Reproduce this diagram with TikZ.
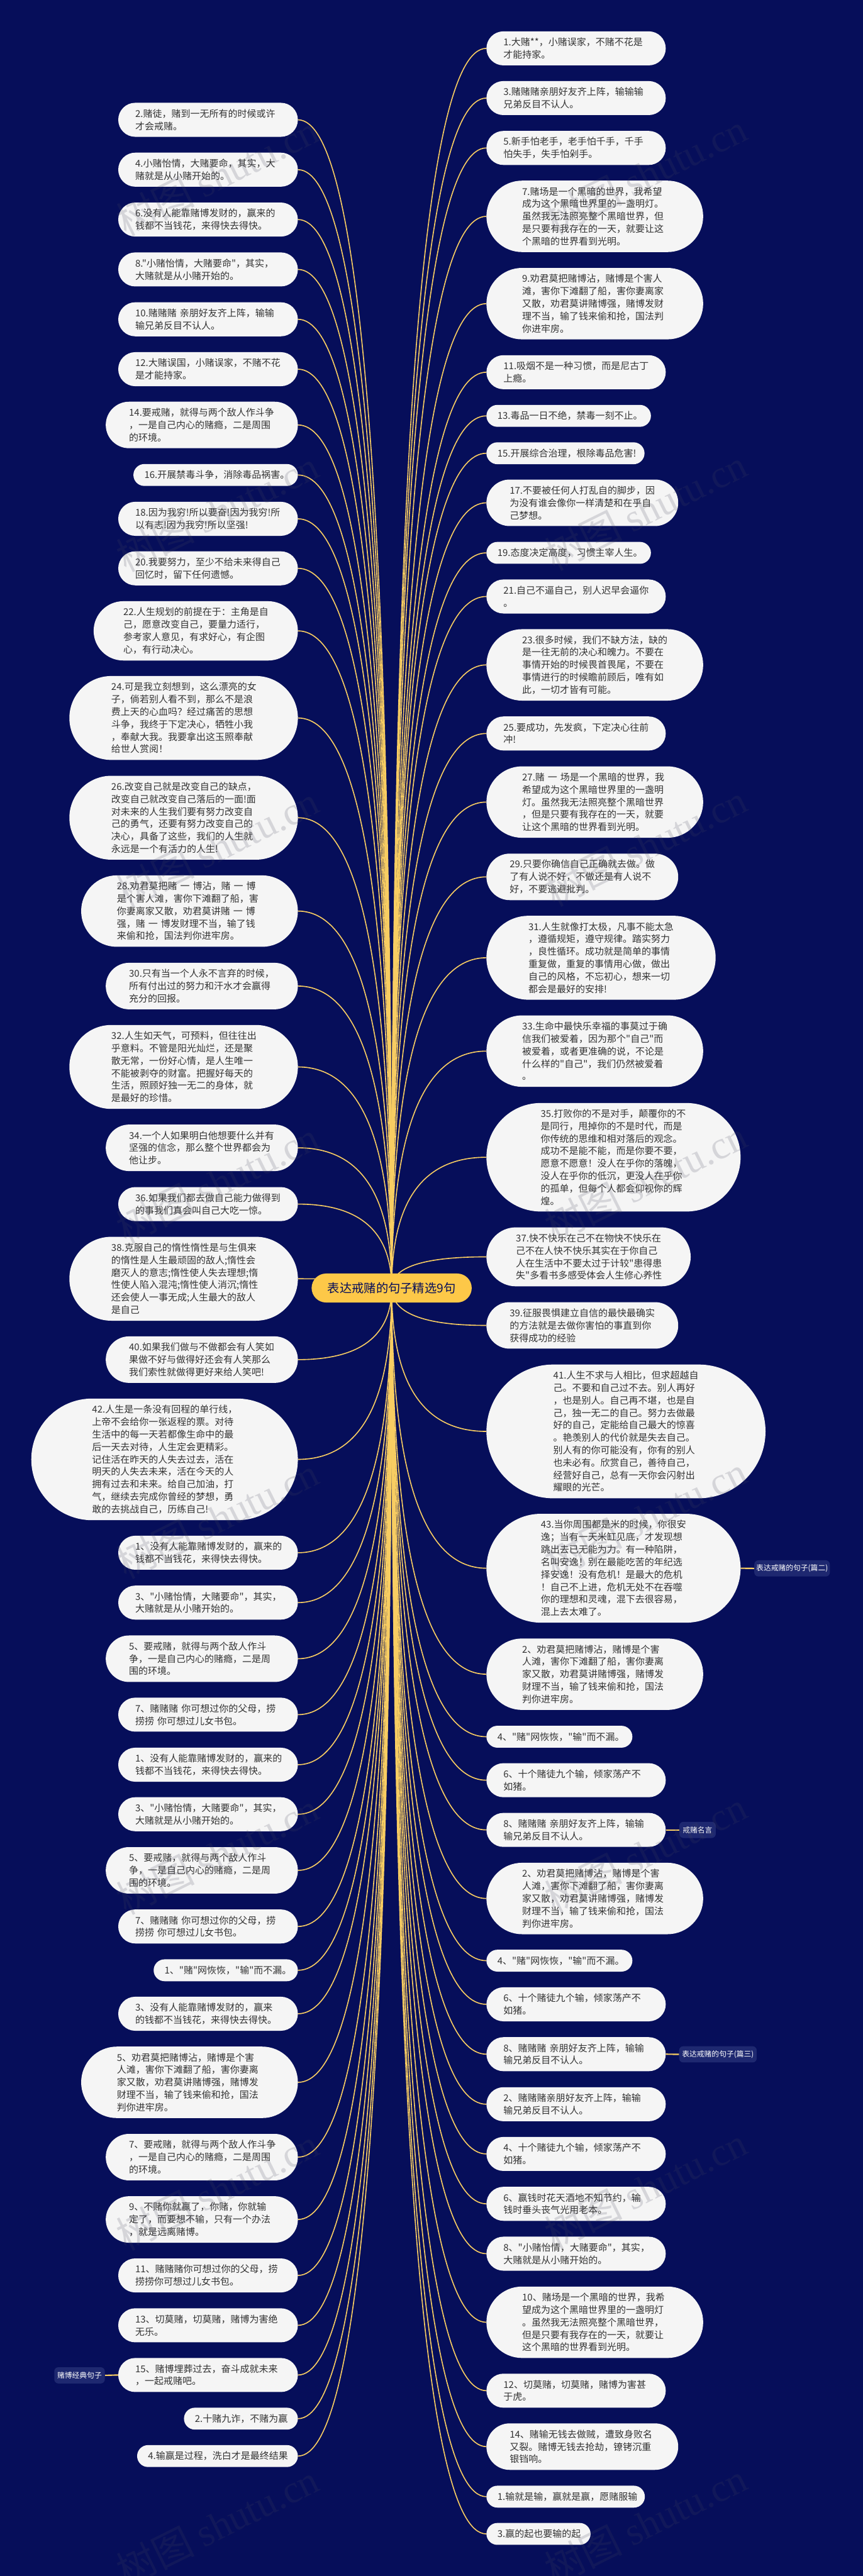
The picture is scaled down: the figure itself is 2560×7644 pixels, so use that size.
\documentclass[tikz,border=0pt]{standalone}
\usepackage{fontspec}
\newfontfamily\cjkfont{Noto Sans CJK SC}
\newfontfamily\markfont{Liberation Serif}
\usetikzlibrary{calc,backgrounds}
\definecolor{pagebg}{HTML}{060E5A}
\definecolor{pillbg}{HTML}{F5F5F5}
\definecolor{pilltext}{HTML}{333333}
\definecolor{linkcol}{HTML}{F8CD62}
\definecolor{rootbg}{HTML}{FDC848}
\definecolor{tagbg}{HTML}{1E2870}
\definecolor{markcol}{HTML}{46465A}
\tikzset{
  pill/.code 2 args={%
    \pgfmathsetlengthmacro\pilltw{(#1-#2)*1pt}%
    \pgfmathsetlengthmacro\pillw{#1*1pt}%
    \pgfmathsetlengthmacro\pillh{#2*1pt}%
    \pgfmathsetlengthmacro\pillr{#2*0.5pt}%
    \tikzset{minimum width=\pillw,minimum height=\pillh,text width=\pilltw,rounded corners=\pillr,
      fill=pillbg,text=pilltext,inner sep=0pt,align=left,font=\cjkfont\fontsize{28}{37}\selectfont}},
  lpill/.style 2 args={pill={#1}{#2},anchor=east},
  rpill/.style 2 args={pill={#1}{#2},anchor=west},
  root/.style={fill=rootbg,text=pagebg,inner sep=0pt,minimum width=475pt,minimum height=86pt,rounded corners=43pt,font=\cjkfont\fontsize{36}{44}\selectfont},
  tag/.style={fill=tagbg,text=white,inner sep=0pt,minimum height=48pt,rounded corners=12pt,font=\cjkfont\fontsize{22}{28}\selectfont},
  wmark/.style={text=markcol,opacity=0.18,rotate=26.4,font=\cjkfont\fontsize{116}{122}\selectfont},
  link/.style={draw=linkcol,line width=3pt,to path={.. controls ($(\tikztostart)!0.667!(\tikztostart -| \tikztotarget)$) and ($(\tikztotarget)!0.667!(\tikztostart -| \tikztotarget)$) .. (\tikztotarget)}},
  stub/.style={draw=linkcol,line width=4pt}
}
\newcommand{\marktext}{树图 {\markfont shutu.cn}}
\begin{document}
\begin{tikzpicture}[x=1pt,y=-1pt]
  \useasboundingbox (0,0) rectangle (2560,7644);
  \path
    (1162,3822) node[root] (root){表达戒赌的句子精选9句};
  \path
    (884,355.5) node[lpill={533}{101}] (l2){2.赌徒，赌到一无所有的时候或许\\才会戒赌。}
    (884,503.5) node[lpill={533}{101}] (l4){4.小赌怡情，大赌要命，其实，大\\赌就是从小赌开始的。}
    (884,651.5) node[lpill={533}{101}] (l6){6.没有人能靠赌博发财的，赢来的\\钱都不当钱花，来得快去得快。}
    (884,799.5) node[lpill={533}{101}] (l8){8."小赌怡情，大赌要命"，其实，\\大赌就是从小赌开始的。}
    (884,947.5) node[lpill={533}{101}] (l10){10.赌赌赌~亲朋好友齐上阵，输输\\输兄弟反目不认人。}
    (884,1095.5) node[lpill={533}{101}] (l12){12.大赌误国，小赌误家，不赌不花\\是才能持家。}
    (884,1261) node[lpill={570}{138}] (l14){14.要戒赌，就得与两个敌人作斗争\\，一是自己内心的赌瘾，二是周围\\的环境。}
    (884,1409.5) node[lpill={488}{65}] (l16){16.开展禁毒斗争，消除毒品祸害。}
    (884,1539.5) node[lpill={533}{101}] (l18){18.因为我穷!所以要奋!因为我穷!所\\以有志!因为我穷!所以坚强!}
    (884,1686.5) node[lpill={533}{101}] (l20){20.我要努力，至少不给未来得自己\\回忆时，留下任何遗憾。}
    (884,1872) node[lpill={606}{176}] (l22){22.人生规划的前提在于：主角是自\\己，愿意改变自己，要量力适行，\\参考家人意见，有求好心，有企图\\心，有行动决心。}
    (884,2130.5) node[lpill={678}{249}] (l24){24.可是我立刻想到，这么漂亮的女\\子，倘若别人看不到，那么不是浪\\费上天的心血吗？经过痛苦的思想\\斗争，我终于下定决心，牺牲小我\\，奉献大我。我要拿出这玉照奉献\\给世人赏阅！}
    (884,2426.5) node[lpill={678}{249}] (l26){26.改变自己就是改变自己的缺点，\\改变自己就改变自己落后的一面!面\\对未来的人生我们要有努力改变自\\己的勇气，还要有努力改变自己的\\决心，具备了这些，我们的人生就\\永远是一个有活力的人生!}
    (884,2703.5) node[lpill={643}{212}] (l28){28.劝君莫把赌~一~博沾，赌~一~博\\是个害人滩，害你下滩翻了船，害\\你妻离家又散，劝君莫讲赌~一~博\\强，赌~一~博发财理不当，输了钱\\来偷和抢，国法判你进牢房。}
    (884,2926) node[lpill={570}{138}] (l30){30.只有当一个人永不言弃的时候，\\所有付出过的努力和汗水才会赢得\\充分的回报。}
    (884,3166) node[lpill={678}{249}] (l32){32.人生如天气，可预料，但往往出\\乎意料。不管是阳光灿烂，还是聚\\散无常，一份好心情，是人生唯一\\不能被剥夺的财富。把握好每天的\\生活，照顾好独一无二的身体，就\\是最好的珍惜。}
    (884,3406) node[lpill={570}{138}] (l34){34.一个人如果明白他想要什么并有\\坚强的信念，那么整个世界都会为\\他让步。}
    (884,3573) node[lpill={533}{101}] (l36){36.如果我们都去做自己能力做得到\\的事我们真会叫自己大吃一惊。}
    (884,3794.5) node[lpill={678}{249}] (l38){38.克服自己的惰性惰性是与生俱来\\的惰性是人生最顽固的敌人;惰性会\\磨灭人的意志;惰性使人失去理想;惰\\性使人陷入混沌;惰性使人消沉;惰性\\还会使人一事无成;人生最大的敌人\\是自己}
    (884,4034.5) node[lpill={570}{138}] (l40){40.如果我们做与不做都会有人笑如\\果做不好与做得好还会有人笑那么\\我们索性就做得更好来给人笑吧!}
    (884,4330.5) node[lpill={791}{361}] (l42){42.人生是一条没有回程的单行线，\\上帝不会给你一张返程的票。对待\\生活中的每一天若都像生命中的最\\后一天去对待，人生定会更精彩。\\记住活在昨天的人失去过去，活在\\明天的人失去未来，活在今天的人\\拥有过去和未来。给自己加油，打\\气，继续去完成你曾经的梦想，勇\\敢的去挑战自己，历练自己!}
    (884,4607.5) node[lpill={533}{101}] (a1){1、没有人能靠赌博发财的，赢来的\\钱都不当钱花，来得快去得快。}
    (884,4755.5) node[lpill={533}{101}] (a3){3、"小赌怡情，大赌要命"，其实，\\大赌就是从小赌开始的。}
    (884,4922) node[lpill={570}{138}] (a5){5、要戒赌，就得与两个敌人作斗\\争，一是自己内心的赌瘾，二是周\\围的环境。}
    (884,5088) node[lpill={533}{101}] (a7){7、赌赌赌~你可想过你的父母，捞\\捞捞~你可想过儿女书包。}
    (884,5236.5) node[lpill={533}{101}] (b1){1、没有人能靠赌博发财的，赢来的\\钱都不当钱花，来得快去得快。}
    (884,5383.5) node[lpill={533}{101}] (b3){3、"小赌怡情，大赌要命"，其实，\\大赌就是从小赌开始的。}
    (884,5550) node[lpill={570}{138}] (b5){5、要戒赌，就得与两个敌人作斗\\争，一是自己内心的赌瘾，二是周\\围的环境。}
    (884,5716.5) node[lpill={533}{101}] (b7){7、赌赌赌~你可想过你的父母，捞\\捞捞~你可想过儿女书包。}
    (884,5846.5) node[lpill={428}{65}] (c1){1、"赌"网恢恢，"输"而不漏。}
    (884,5975.5) node[lpill={533}{101}] (c3){3、没有人能靠赌博发财的，赢来\\的钱都不当钱花，来得快去得快。}
    (884,6179) node[lpill={643}{212}] (c5){5、劝君莫把赌博沾，赌博是个害\\人滩，害你下滩翻了船，害你妻离\\家又散，劝君莫讲赌博强，赌博发\\财理不当，输了钱来偷和抢，国法\\判你进牢房。}
    (884,6401) node[lpill={570}{138}] (c7){7、要戒赌，就得与两个敌人作斗争\\，一是自己内心的赌瘾，二是周围\\的环境。}
    (884,6586) node[lpill={570}{138}] (c9){9、不赌你就赢了，你赌，你就输\\定了，而要想不输，只有一个办法\\，就是远离赌博。}
    (884,6752) node[lpill={533}{101}] (c11){11、赌赌赌你可想过你的父母，捞\\捞捞你可想过儿女书包。}
    (884,6900) node[lpill={533}{101}] (c13){13、切莫赌，切莫赌，赌博为害绝\\无乐。}
    (884,7047.5) node[lpill={533}{101}] (c15){15、赌博埋葬过去，奋斗成就未来\\，一起戒赌吧。}
    (884,7177) node[lpill={338}{65}] (d2){2.十赌九诈，不赌为赢}
    (884,7288) node[lpill={477}{65}] (d4){4.输赢是过程，洗白才是最终结果};
  \path
    (1443,143.5) node[rpill={532}{101}] (r1){1.大赌**，小赌误家，不赌不花是\\才能持家。}
    (1443,291) node[rpill={532}{101}] (r3){3.赌赌赌亲朋好友齐上阵，输输输\\兄弟反目不认人。}
    (1443,439) node[rpill={532}{101}] (r5){5.新手怕老手，老手怕千手，千手\\怕失手，失手怕剁手。}
    (1443,642) node[rpill={643}{212}] (r7){7.赌场是一个黑暗的世界，我希望\\成为这个黑暗世界里的一盏明灯。\\虽然我无法照亮整个黑暗世界，但\\是只要有我存在的一天，就要让这\\个黑暗的世界看到光明。}
    (1443,901) node[rpill={643}{212}] (r9){9.劝君莫把赌博沾，赌博是个害人\\滩，害你下滩翻了船，害你妻离家\\又散，劝君莫讲赌博强，赌博发财\\理不当，输了钱来偷和抢，国法判\\你进牢房。}
    (1443,1104.5) node[rpill={532}{101}] (r11){11.吸烟不是一种习惯，而是尼古丁\\上瘾。}
    (1443,1234) node[rpill={488}{65}] (r13){13.毒品一日不绝，禁毒一刻不止。}
    (1443,1345) node[rpill={469}{65}] (r15){15.开展综合治理，根除毒品危害!}
    (1443,1492) node[rpill={569}{138}] (r17){17.不要被任何人打乱自的脚步，因\\为没有谁会像你一样清楚和在乎自\\己梦想。}
    (1443,1640.5) node[rpill={488}{65}] (r19){19.态度决定高度，习惯主宰人生。}
    (1443,1770) node[rpill={532}{101}] (r21){21.自己不逼自己，别人迟早会逼你\\。}
    (1443,1973) node[rpill={643}{212}] (r23){23.很多时候，我们不缺方法，缺的\\是一往无前的决心和魄力。不要在\\事情开始的时候畏首畏尾，不要在\\事情进行的时候瞻前顾后，唯有如\\此，一切才皆有可能。}
    (1443,2176.5) node[rpill={532}{101}] (r25){25.要成功，先发疯，下定决心往前\\冲!}
    (1443,2380) node[rpill={643}{212}] (r27){27.赌~一~场是一个黑暗的世界，我\\希望成为这个黑暗世界里的一盏明\\灯。虽然我无法照亮整个黑暗世界\\，但是只要有我存在的一天，就要\\让这个黑暗的世界看到光明。}
    (1443,2602) node[rpill={569}{138}] (r29){29.只要你确信自己正确就去做。做\\了有人说不好，不做还是有人说不\\好，不要逃避批判。}
    (1443,2842) node[rpill={680}{249}] (r31){31.人生就像打太极，凡事不能太急\\，遵循规矩，遵守规律。踏实努力\\，良性循环。成功就是简单的事情\\重复做，重复的事情用心做，做出\\自己的风格，不忘初心，想来一切\\都会是最好的安排!}
    (1443,3119) node[rpill={643}{212}] (r33){33.生命中最快乐幸福的事莫过于确\\信我们被爱着，因为那个"自己"而\\被爱着，或者更准确的说，不论是\\什么样的"自己"，我们仍然被爱着\\。}
    (1443,3434) node[rpill={754}{322}] (r35){35.打败你的不是对手，颠覆你的不\\是同行，甩掉你的不是时代，而是\\你传统的思维和相对落后的观念。\\成功不是能不能，而是你要不要，\\愿意不愿意！没人在乎你的落魄，\\没人在乎你的低沉，更没人在乎你\\的孤单，但每个人都会仰视你的辉\\煌。}
    (1443,3729.5) node[rpill={606}{175}] (r37){37.快不快乐在己不在物快不快乐在\\己不在人快不快乐其实在于你自己\\人在生活中不要太过于计较"患得患\\失"多看书多感受体会人生修心养性}
    (1443,3933) node[rpill={569}{138}] (r39){39.征服畏惧建立自信的最快最确实\\的方法就是去做你害怕的事直到你\\获得成功的经验}
    (1443,4247.5) node[rpill={828}{397}] (r41){41.人生不求与人相比，但求超越自\\己。不要和自己过不去。别人再好\\，也是别人。自己再不堪，也是自\\己，独一无二的自己。努力去做最\\好的自己，定能给自己最大的惊喜\\。艳羡别人的代价就是失去自己。\\别人有的你可能没有，你有的别人\\也未必有。欣赏自己，善待自己，\\经营好自己，总有一天你会闪射出\\耀眼的光芒。}
    (1443,4653.5) node[rpill={754}{323}] (r43){43.当你周围都是米的时候，你很安\\逸；当有一天米缸见底，才发现想\\跳出去已无能为力。有一种陷阱，\\名叫安逸！别在最能吃苦的年纪选\\择安逸！没有危机！是最大的危机\\！自己不上进，危机无处不在吞噬\\你的理想和灵魂，混下去很容易，\\混上去太难了。}
    (1443,4968) node[rpill={643}{212}] (e2){2、劝君莫把赌博沾，赌博是个害\\人滩，害你下滩翻了船，害你妻离\\家又散，劝君莫讲赌博强，赌博发\\财理不当，输了钱来偷和抢，国法\\判你进牢房。}
    (1443,5153.5) node[rpill={433}{65}] (e4){4、"赌"网恢恢，"输"而不漏。}
    (1443,5282.5) node[rpill={532}{101}] (e6){6、十个赌徒九个输，倾家荡产不\\如猪。}
    (1443,5430) node[rpill={532}{101}] (e8){8、赌赌赌~亲朋好友齐上阵，输输\\输兄弟反目不认人。}
    (1443,5633.5) node[rpill={643}{212}] (f2){2、劝君莫把赌博沾，赌博是个害\\人滩，害你下滩翻了船，害你妻离\\家又散，劝君莫讲赌博强，赌博发\\财理不当，输了钱来偷和抢，国法\\判你进牢房。}
    (1443,5818) node[rpill={433}{65}] (f4){4、"赌"网恢恢，"输"而不漏。}
    (1443,5947.5) node[rpill={532}{101}] (f6){6、十个赌徒九个输，倾家荡产不\\如猪。}
    (1443,6095.5) node[rpill={532}{101}] (f8){8、赌赌赌~亲朋好友齐上阵，输输\\输兄弟反目不认人。}
    (1443,6244) node[rpill={532}{101}] (g2){2、赌赌赌亲朋好友齐上阵，输输\\输兄弟反目不认人。}
    (1443,6391.5) node[rpill={532}{101}] (g4){4、十个赌徒九个输，倾家荡产不\\如猪。}
    (1443,6539.5) node[rpill={532}{101}] (g6){6、赢钱时花天酒地不知节约，输\\钱时垂头丧气光用老本。}
    (1443,6687.5) node[rpill={532}{101}] (g8){8、"小赌怡情，大赌要命"，其实，\\大赌就是从小赌开始的。}
    (1443,6891) node[rpill={643}{212}] (g10){10、赌场是一个黑暗的世界，我希\\望成为这个黑暗世界里的一盏明灯\\。虽然我无法照亮整个黑暗世界，\\但是只要有我存在的一天，就要让\\这个黑暗的世界看到光明。}
    (1443,7094) node[rpill={532}{101}] (g12){12、切莫赌，切莫赌，赌博为害甚\\于虎。}
    (1443,7260) node[rpill={569}{138}] (g14){14、赌输无钱去做贼，遭致身败名\\又裂。赌博无钱去抢劫，镣铐沉重\\银铛响。}
    (1443,7408.5) node[rpill={470}{65}] (h1){1.输就是输，赢就是赢，愿赌服输}
    (1443,7519) node[rpill={309}{65}] (h3){3.赢的起也要输的起};
  \path
    (236,7048.5) node[tag,minimum width=150pt] (tagjd){赌博经典句子}
    (2350,4654) node[tag,minimum width=224pt] (tagp2){表达戒赌的句子(篇二)}
    (2069.5,5430) node[tag,minimum width=108pt] (tagmy){戒赌名言}
    (2130,6096) node[tag,minimum width=230pt] (tagp3){表达戒赌的句子(篇三)};
  \begin{scope}[on background layer]
    \fill[pagebg] (0,0) rectangle (2560,7644);
    \begin{scope}[link]
      \draw (l2.east) to (root.center);
      \draw (l4.east) to (root.center);
      \draw (l6.east) to (root.center);
      \draw (l8.east) to (root.center);
      \draw (l10.east) to (root.center);
      \draw (l12.east) to (root.center);
      \draw (l14.east) to (root.center);
      \draw (l16.east) to (root.center);
      \draw (l18.east) to (root.center);
      \draw (l20.east) to (root.center);
      \draw (l22.east) to (root.center);
      \draw (l24.east) to (root.center);
      \draw (l26.east) to (root.center);
      \draw (l28.east) to (root.center);
      \draw (l30.east) to (root.center);
      \draw (l32.east) to (root.center);
      \draw (l34.east) to (root.center);
      \draw (l36.east) to (root.center);
      \draw (l38.east) to (root.center);
      \draw (l40.east) to (root.center);
      \draw (l42.east) to (root.center);
      \draw (a1.east) to (root.center);
      \draw (a3.east) to (root.center);
      \draw (a5.east) to (root.center);
      \draw (a7.east) to (root.center);
      \draw (b1.east) to (root.center);
      \draw (b3.east) to (root.center);
      \draw (b5.east) to (root.center);
      \draw (b7.east) to (root.center);
      \draw (c1.east) to (root.center);
      \draw (c3.east) to (root.center);
      \draw (c5.east) to (root.center);
      \draw (c7.east) to (root.center);
      \draw (c9.east) to (root.center);
      \draw (c11.east) to (root.center);
      \draw (c13.east) to (root.center);
      \draw (c15.east) to (root.center);
      \draw (d2.east) to (root.center);
      \draw (d4.east) to (root.center);
      \draw (r1.west) to (root.center);
      \draw (r3.west) to (root.center);
      \draw (r5.west) to (root.center);
      \draw (r7.west) to (root.center);
      \draw (r9.west) to (root.center);
      \draw (r11.west) to (root.center);
      \draw (r13.west) to (root.center);
      \draw (r15.west) to (root.center);
      \draw (r17.west) to (root.center);
      \draw (r19.west) to (root.center);
      \draw (r21.west) to (root.center);
      \draw (r23.west) to (root.center);
      \draw (r25.west) to (root.center);
      \draw (r27.west) to (root.center);
      \draw (r29.west) to (root.center);
      \draw (r31.west) to (root.center);
      \draw (r33.west) to (root.center);
      \draw (r35.west) to (root.center);
      \draw (r37.west) to (root.center);
      \draw (r39.west) to (root.center);
      \draw (r41.west) to (root.center);
      \draw (r43.west) to (root.center);
      \draw (e2.west) to (root.center);
      \draw (e4.west) to (root.center);
      \draw (e6.west) to (root.center);
      \draw (e8.west) to (root.center);
      \draw (f2.west) to (root.center);
      \draw (f4.west) to (root.center);
      \draw (f6.west) to (root.center);
      \draw (f8.west) to (root.center);
      \draw (g2.west) to (root.center);
      \draw (g4.west) to (root.center);
      \draw (g6.west) to (root.center);
      \draw (g8.west) to (root.center);
      \draw (g10.west) to (root.center);
      \draw (g12.west) to (root.center);
      \draw (g14.west) to (root.center);
      \draw (h1.west) to (root.center);
      \draw (h3.west) to (root.center);
    \end{scope}
    \begin{scope}[stub]
      \draw (tagjd.east) -- (c15.west);
      \draw (r43.east) -- (tagp2.west);
      \draw (e8.east) -- (tagmy.west);
      \draw (f8.east) -- (tagp3.west);
    \end{scope}
  \end{scope}
  \path
    (645,520) node[wmark] (wa1){\marktext}
    (645,1516) node[wmark] (wa2){\marktext}
    (645,2512) node[wmark] (wa3){\marktext}
    (645,3508) node[wmark] (wa4){\marktext}
    (645,4504) node[wmark] (wa5){\marktext}
    (645,5500) node[wmark] (wa6){\marktext}
    (645,6496) node[wmark] (wa7){\marktext}
    (645,7492) node[wmark] (wa8){\marktext}
    (1915,516) node[wmark] (wb1){\marktext}
    (1915,1512) node[wmark] (wb2){\marktext}
    (1915,2508) node[wmark] (wb3){\marktext}
    (1915,3504) node[wmark] (wb4){\marktext}
    (1915,4500) node[wmark] (wb5){\marktext}
    (1915,5496) node[wmark] (wb6){\marktext}
    (1915,6492) node[wmark] (wb7){\marktext}
    (1915,7488) node[wmark] (wb8){\marktext};
\end{tikzpicture}
\end{document}
